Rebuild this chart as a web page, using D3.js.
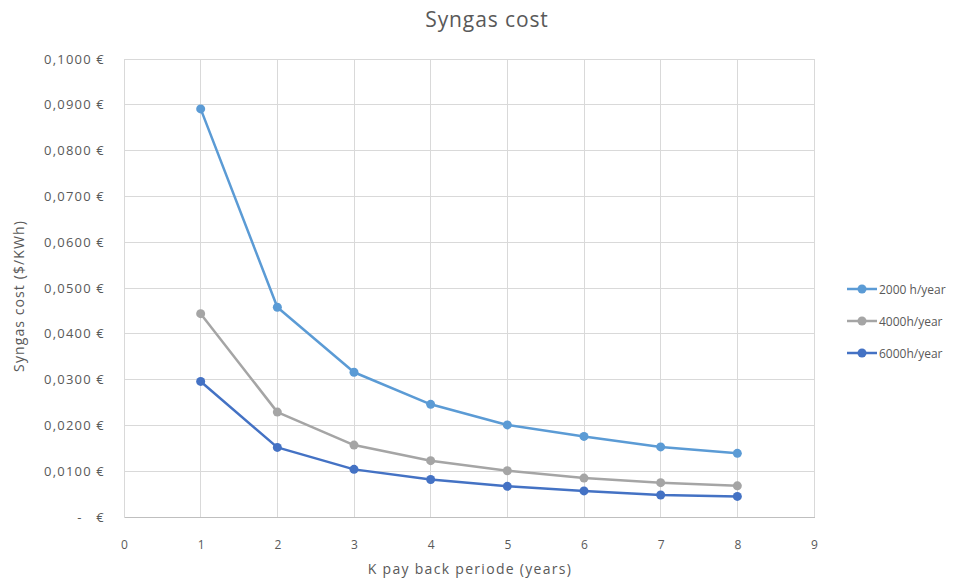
<!DOCTYPE html>
<html>
<head>
<meta charset="utf-8">
<script src="https://cdn.jsdelivr.net/npm/d3@7"></script>
<style>
  body { margin: 0; background: #fff; }
  svg { display: block; font-family: "Open Sans", "Liberation Sans", sans-serif; }
  text { white-space: pre; }
</style>
</head>
<body>
<svg id="chart" width="977" height="581"></svg>
<script>
// Payback period in years
const years = [1, 2, 3, 4, 5, 6, 7, 8];

// Syngas cost per operating regime
const cost2000 = [0.0891, 0.0458, 0.0316, 0.0246, 0.0201, 0.0176, 0.0153, 0.0139];
const cost4000 = [0.0444, 0.0229, 0.0157, 0.0123, 0.0101, 0.0085, 0.0075, 0.0068];
const cost6000 = [0.0296, 0.0152, 0.0104, 0.0082, 0.0067, 0.0057, 0.0048, 0.0045];

const seriesNames = ["2000 h/year", "4000h/year", "6000h/year"];
const seriesColors = ["#5B9BD5", "#A5A5A5", "#4472C4"];

const xTicks = [0, 1, 2, 3, 4, 5, 6, 7, 8, 9];
const yTicks = [0, 0.01, 0.02, 0.03, 0.04, 0.05, 0.06, 0.07, 0.08, 0.09, 0.1];
const yTickLabels = ["-   €", "0,0100 €", "0,0200 €", "0,0300 €", "0,0400 €", "0,0500 €",
                     "0,0600 €", "0,0700 €", "0,0800 €", "0,0900 €", "0,1000 €"];

const series = [cost2000, cost4000, cost6000].map((vals, i) => ({
  name: seriesNames[i],
  color: seriesColors[i],
  points: years.map((y, j) => ({ x: y, y: vals[j] }))
}));

const svg = d3.select("#chart");
const plot = { left: 124, right: 814, top: 59, bottom: 517 };

const x = d3.scaleLinear().domain([0, 9]).range([plot.left, plot.right]);
const y = d3.scaleLinear().domain([0, 0.1]).range([plot.bottom, plot.top]);

const textColor = "#595959";
const gridColor = "#D9D9D9";

// Title
svg.append("text")
  .attr("x", 487).attr("y", 27)
  .attr("text-anchor", "middle")
  .attr("font-size", 21)
  .attr("letter-spacing", 0.9)
  .attr("fill", textColor)
  .text("Syngas cost");

// Horizontal gridlines
svg.append("g").selectAll("line").data(yTicks).join("line")
  .attr("x1", plot.left).attr("x2", plot.right)
  .attr("y1", d => y(d)).attr("y2", d => y(d))
  .attr("stroke", gridColor).attr("stroke-width", 1)
  .attr("shape-rendering", "crispEdges");

// Vertical gridlines
svg.append("g").selectAll("line").data(xTicks).join("line")
  .attr("x1", d => x(d)).attr("x2", d => x(d))
  .attr("y1", plot.top).attr("y2", plot.bottom)
  .attr("stroke", gridColor).attr("stroke-width", 1)
  .attr("shape-rendering", "crispEdges");

// Bottom axis with labels
const xAxis = d3.axisBottom(x).tickValues(xTicks).tickSize(0).tickPadding(23).tickFormat(d3.format("d"));
const gx = svg.append("g").attr("transform", `translate(0,${plot.bottom})`).call(xAxis);
gx.select(".domain").attr("stroke", "#BFBFBF").attr("shape-rendering", "crispEdges");
gx.selectAll("text").attr("font-size", 12).attr("fill", textColor).attr("font-family", "Open Sans, sans-serif");

// Left axis labels
const yAxis = d3.axisLeft(y).tickValues(yTicks).tickSize(0).tickPadding(19)
  .tickFormat((d, i) => yTickLabels[i]);
const gy = svg.append("g").attr("transform", `translate(${plot.left},0)`).call(yAxis);
gy.select(".domain").remove();
gy.selectAll("text").attr("font-size", 13).attr("letter-spacing", 1.2)
  .attr("fill", textColor).attr("font-family", "Open Sans, sans-serif");

// Axis titles
svg.append("text")
  .attr("x", 470).attr("y", 574)
  .attr("text-anchor", "middle")
  .attr("font-size", 14)
  .attr("letter-spacing", 1.3)
  .attr("fill", textColor)
  .text("K pay back periode (years)");

svg.append("text")
  .attr("transform", "translate(24,296) rotate(-90)")
  .attr("text-anchor", "middle")
  .attr("font-size", 14)
  .attr("letter-spacing", 1.1)
  .attr("fill", textColor)
  .text("Syngas cost ($/KWh)");

// Lines and markers
const line = d3.line().x(d => x(d.x)).y(d => y(d.y));
const gs = svg.append("g").selectAll("g").data(series).join("g");
gs.append("path")
  .attr("d", d => line(d.points))
  .attr("fill", "none")
  .attr("stroke", d => d.color)
  .attr("stroke-width", 2.5)
  .attr("stroke-linejoin", "round");
gs.each(function (s) {
  d3.select(this).selectAll("circle").data(s.points).join("circle")
    .attr("cx", d => x(d.x)).attr("cy", d => y(d.y))
    .attr("r", 4.5)
    .attr("fill", s.color);
});

// Legend
const legend = svg.append("g").selectAll("g").data(series).join("g")
  .attr("transform", (d, i) => `translate(847,${289 + i * 32})`);
legend.append("line")
  .attr("x1", 0).attr("x2", 30).attr("y1", 0).attr("y2", 0)
  .attr("stroke", d => d.color).attr("stroke-width", 2.5);
legend.append("circle")
  .attr("cx", 15).attr("cy", 0).attr("r", 4.5)
  .attr("fill", d => d.color);
legend.append("text")
  .attr("x", 32).attr("y", 4.5)
  .attr("font-size", 12)
  .attr("fill", textColor)
  .text(d => d.name);
</script>
</body>
</html>
